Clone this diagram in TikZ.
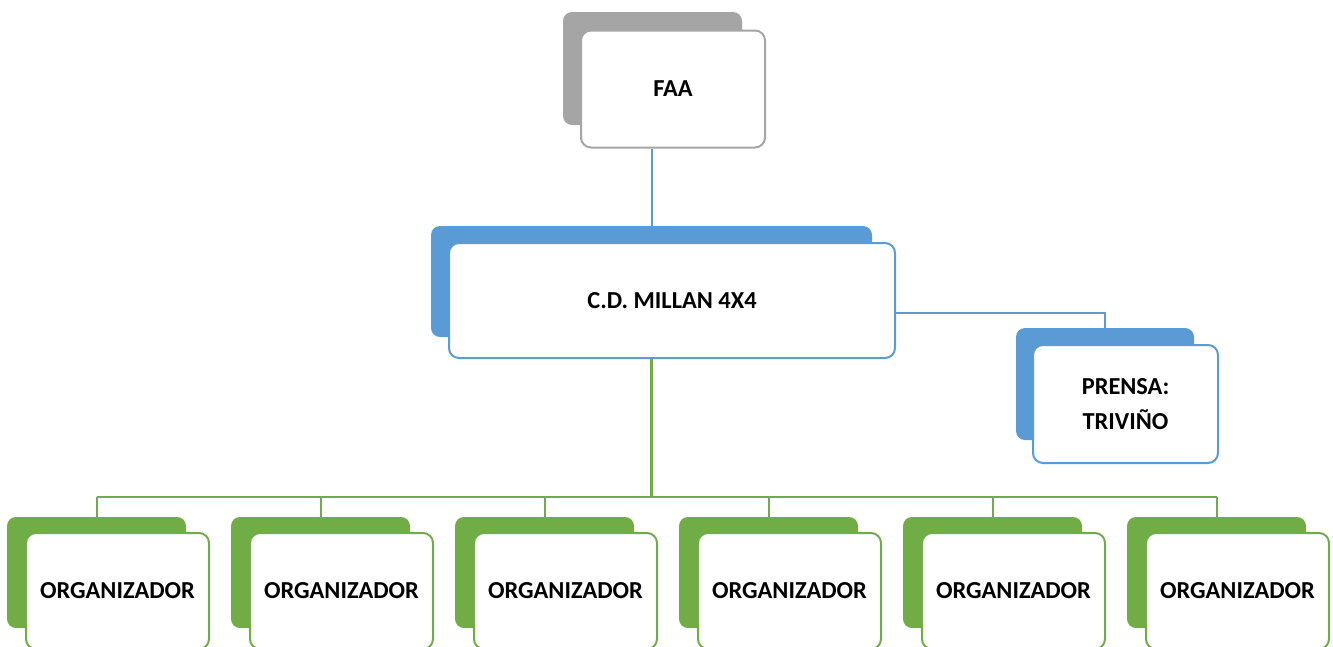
\documentclass[tikz,border=0pt]{standalone}
\usepackage{fontspec}
\setmainfont{Carlito}
\usetikzlibrary{calc}
\definecolor{cgray}{HTML}{A5A5A5}
\definecolor{cblue}{HTML}{5B9BD5}
\definecolor{cgreen}{HTML}{70AD47}
\tikzset{
  shadowbox/.style={rectangle, rounded corners=9pt, fill=#1, draw=none, inner sep=0pt},
  frontbox/.style={rectangle, rounded corners=10pt, fill=white, draw=#1, line width=2pt, inner sep=0pt,
     font=\fontsize{24.4}{30}\selectfont\bfseries, align=center},
  link/.style={draw=#1, line width=2pt},
}
\begin{document}
\begin{tikzpicture}[x=1pt,y=-1pt]
\path[use as bounding box] (0,0) rectangle (1333,646);
\clip (0,0) rectangle (1333,646);
% FAA
\node[shadowbox=cgray, minimum width=179pt, minimum height=113pt] (faaS) at (652.5,68.5) {};
\node[frontbox=cgray, minimum width=184pt, minimum height=117pt] (faa) at (673,89) {FAA};
% C.D.
\node[shadowbox=cblue, minimum width=441pt, minimum height=111pt] (cdS) at (651.5,281.5) {};
\node[frontbox=cblue, minimum width=446pt, minimum height=115pt] (cd) at (672,300.5) {C.D. MILLAN 4X4};
% PRENSA
\node[shadowbox=cblue, minimum width=178pt, minimum height=112pt] (prS) at (1105,384) {};
\node[frontbox=cblue, minimum width=185pt, minimum height=118pt] (pr) at (1125.5,404) {PRENSA:\\[5pt]TRIVIÑO};
% Organizers
\foreach \i in {1,...,6}{
  \pgfmathsetmacro{\sx}{96.5+224*(\i-1)}
  \pgfmathsetmacro{\fx}{117.5+224*(\i-1)}
  \node[shadowbox=cgreen, minimum width=179pt, minimum height=111pt] (orgS\i) at (\sx,572.5) {};
  \node[frontbox=cgreen, minimum width=183pt, minimum height=116pt] (org\i) at (\fx,591) {ORGANIZADOR};
}
% connectors
\coordinate (bus) at (0,497);
\draw[link=cblue] (faa.south -| cdS.north) -- (cdS.north);
\draw[link=cblue] ($(cd.east)+(0,12.5)$) -| (prS.north);
\draw[link=cgreen, line width=3pt] (cdS.center |- cd.south) -- (cdS.center |- bus);
\draw[link=cgreen] (orgS1.north |- bus) -- (orgS6.north |- bus);
\foreach \i in {1,...,6}{
  \draw[link=cgreen] (orgS\i.north |- bus) -- (orgS\i.north);
}
\end{tikzpicture}
\end{document}
